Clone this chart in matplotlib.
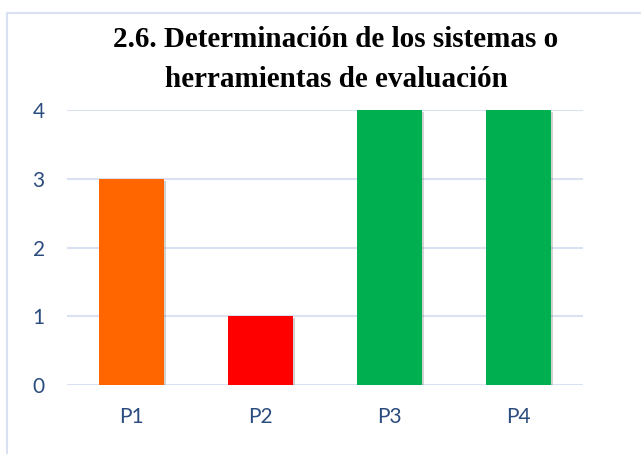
import matplotlib.pyplot as plt
import matplotlib.patheffects as pe
from matplotlib.lines import Line2D

# datos
categorias = ['P1', 'P2', 'P3', 'P4']
valores = [3, 1, 4, 4]
colores = ['#FF6600', '#FF0000', '#00B050', '#00B050']
yticks = [0, 1, 2, 3, 4]
titulo = ['2.6. Determinación de los sistemas o', 'herramientas de evaluación']

W, H = 641, 454
fig = plt.figure(figsize=(W / 100, H / 100), dpi=100)

# area de trazado (en pixeles medidos)
x0, x1 = 67, 583
y_top, y_bot = 110, 385
ax = fig.add_axes([x0 / W, 1 - y_bot / H, (x1 - x0) / W, (y_bot - y_top) / H])

barras = ax.bar(range(len(categorias)), valores, width=0.5, color=colores, zorder=3)
for b in barras:
    b.set_path_effects([pe.SimplePatchShadow(offset=(1.5, -1.5), shadow_rgbFace='#808080', alpha=0.35),
                        pe.Normal()])

ax.set_xlim(-0.5, len(categorias) - 0.5)
ax.set_ylim(0, 4)
ax.set_yticks(yticks)
ax.set_xticks(range(len(categorias)))
ax.set_xticklabels(categorias)

ax.grid(axis='y', color='#D9E1F2', linewidth=1.5, zorder=0)
ax.set_axisbelow(True)
for s in ax.spines.values():
    s.set_visible(False)

texto_color = '#2B4C7E'
ax.tick_params(axis='both', length=0, labelsize=15, labelcolor=texto_color)
ax.tick_params(axis='x', pad=16)
ax.tick_params(axis='y', pad=16)
for lab in ax.get_xticklabels() + ax.get_yticklabels():
    lab.set_family('Lato')

# titulo (dos lineas)
for linea, yb in zip(titulo, [47, 87]):
    fig.text(336 / W, 1 - yb / H, linea, ha='center', va='baseline',
             fontsize=21, fontweight='bold', family='Liberation Serif')

# borde del grafico (izquierda y arriba)
fig.add_artist(Line2D([7 / W, 7 / W], [0, 1 - 13 / H], transform=fig.transFigure,
                      color='#D9E1F2', linewidth=1.5))
fig.add_artist(Line2D([7 / W, 1], [1 - 13 / H, 1 - 13 / H], transform=fig.transFigure,
                      color='#D9E1F2', linewidth=1.5))

fig.savefig('out.png', dpi=100)
